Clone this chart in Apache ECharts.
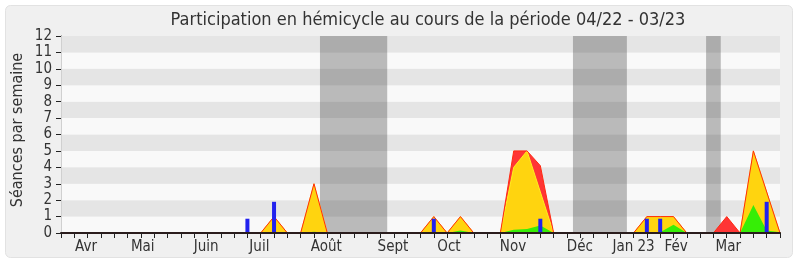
<!DOCTYPE html>
<html><head><meta charset="utf-8">
<script src="https://cdn.jsdelivr.net/npm/echarts@6/dist/echarts.min.js"></script>
<style>html,body{margin:0;padding:0;background:#fff}#c{width:800px;height:267px}</style>
</head><body><div id="c"></div>
<script>
const titleText = 'Participation en hémicycle au cours de la période 04/22 - 03/23';
const yName = 'Séances par semaine';
const monthLabels = ['Avr','Mai','Juin','Juil','Août','Sept','Oct','Nov','Déc','Jan 23','Fév','Mar'];
const monthPos = [1.88,6.14,10.9,14.9,19.93,24.93,29.14,33.95,38.97,43.0,46.2,50.12];
// weekly values, weeks 0..54
const presence = [
 0,0,0,0,0,0,0,0,0,0,
 0,0,0,0,0,0,1,0,0,3,
 0,0,0,0,0,0,0,0,1,0,
 1,0,0,0,5,5,4.1,0,0,0,
 0,0,0,0,1,1,1,0,0,0,
 1,0,5,2.5,0];
const participation = [
 0,0,0,0,0,0,0,0,0,0,
 0,0,0,0,0,0,1,0,0,3,
 0,0,0,0,0,0,0,0,1,0,
 1,0,0,0,4,5,2.5,0,0,0,
 0,0,0,0,1,1,1,0,0,0,
 0,0,5,2.5,0];
const interventions = [
 0,0,0,0,0,0,0,0,0,0,
 0,0,0,0,0,0,0.08,0,0,0.08,
 0,0,0,0,0,0,0,0,0.05,0,
 0.15,0,0,0,0.2,0.25,0.45,0,0,0,
 0,0,0,0,0.05,0.05,0.5,0,0,0,
 0,0,1.7,0.15,0.05];
const questions = [
 0,0,0,0,0,0,0,0,0,0,
 0,0,0,0,0.87,0,1.9,0,0,0,
 0,0,0,0,0,0,0,0,0.87,0,
 0,0,0,0,0,0,0.87,0,0,0,
 0,0,0,0,0.87,0.87,0,0,0,0,
 0,0,0,1.9,0];
const vacations = [[19.45,24.5],[38.45,42.5],[48.45,49.55]];

const FONT = "'DejaVu Sans Condensed','DejaVu Sans',sans-serif";
const pairs = arr => arr.map((v,i)=>[i,v]);
const chart = echarts.init(document.getElementById('c'), null, {renderer:'canvas'});
const maxX = presence.length - 1;
chart.setOption({
  animation:false,
  backgroundColor:'#ffffff',
  graphic:{elements:[
    {type:'rect', z:-100, shape:{x:5.5,y:5.5,width:787,height:252,r:5}, style:{fill:'#f0f0f0',stroke:'#e2e2e2',lineWidth:1}},
    {type:'text', z:10, x:428, y:20, style:{text:titleText, font:"18px "+FONT, fill:'#333', textAlign:'center', textVerticalAlign:'middle'}},
    {type:'text', z:10, x:18, y:130, rotation:Math.PI/2, style:{text:yName, font:"16px "+FONT, fill:'#333', textAlign:'center', textVerticalAlign:'middle'}}
  ]},
  grid:{left:61, right:20, top:36, bottom:34},
  xAxis:[{
    type:'value', min:0, max:maxX, interval:1, position:'bottom', z:10,
    axisLine:{show:true, onZero:false, lineStyle:{color:'#2a1c1c', width:2}},
    axisTick:{show:true, length:5, lineStyle:{color:'#222'}},
    axisLabel:{show:true, customValues:monthPos, margin:7, fontFamily:FONT, fontSize:15, color:'#333',
      formatter:v=>{const k=monthPos.indexOf(v); return k>=0?monthLabels[k]:'';}},
    splitLine:{show:false}
  },{
    type:'value', min:0, max:maxX, interval:1, position:'top',
    axisLine:{show:false}, axisTick:{show:true, inside:true, length:1, lineStyle:{color:'#555'}},
    axisLabel:{show:false}, splitLine:{show:false}
  }],
  yAxis:[{
    type:'value', min:0, max:12, interval:1,
    axisLine:{show:true, lineStyle:{color:'#222'}},
    axisTick:{show:true, length:5, lineStyle:{color:'#222'}},
    axisLabel:{fontFamily:FONT, fontSize:15, color:'#333', margin:9},
    splitLine:{show:false},
    splitArea:{show:true, areaStyle:{color:['#f9f9f9','#e5e5e5']}}
  },{
    type:'value', min:0, max:12, interval:1, position:'right',
    axisLine:{show:true, lineStyle:{color:'#d0d0d0'}}, axisTick:{show:false}, axisLabel:{show:false}, splitLine:{show:false}
  }],
  series:[
    {type:'line', data:[], z:1, silent:true,
     markArea:{silent:true, itemStyle:{color:'rgba(40,40,40,0.3)'}, data:vacations.map(v=>[{xAxis:v[0]},{xAxis:v[1]}])}},
    {type:'line', data:pairs(presence), z:2, symbol:'none', lineStyle:{width:0}, areaStyle:{color:'#ff3535', opacity:1}},
    {type:'line', data:pairs(participation), z:3, symbol:'none', lineStyle:{width:1, color:'#ffef20'}, areaStyle:{color:'#ffd40f', opacity:1}},
    {type:'line', data:pairs(interventions), z:4, symbol:'none', lineStyle:{width:0}, areaStyle:{color:'#36ee06', opacity:1}},
    {type:'line', data:pairs(presence), z:5, symbol:'none', lineStyle:{width:1, color:'#ff2a10'}},
    {type:'bar', data:pairs(questions), z:6, barWidth:4, itemStyle:{color:'#2222ee'}}
  ]
});
</script></body></html>
